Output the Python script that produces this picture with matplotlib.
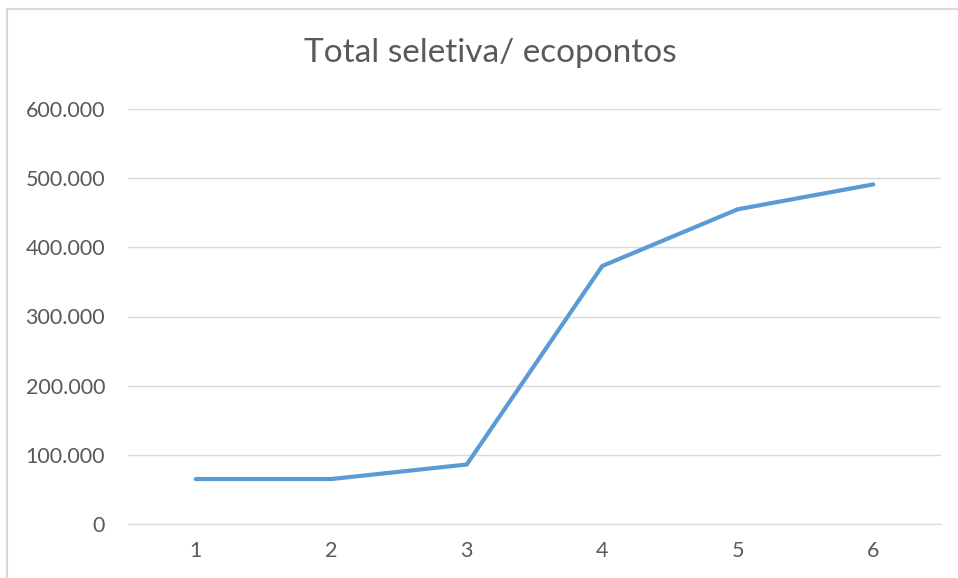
import matplotlib
matplotlib.use("Agg")
import matplotlib.pyplot as plt
from matplotlib.patches import Rectangle
from matplotlib.ticker import FuncFormatter

categories = [1, 2, 3, 4, 5, 6]
values = [65000, 65000, 86000, 373000, 455000, 491000]
y_ticks = [0, 100000, 200000, 300000, 400000, 500000, 600000]
title = "Total seletiva/ ecopontos"

plt.rcParams['font.family'] = ['Lato', 'DejaVu Sans']
txt_color = "#595959"

fig = plt.figure(figsize=(9.58, 5.78), dpi=100)
ax = fig.add_axes([128/958, 1 - 524/578, (941-128)/958, (524-109)/578])

# chart border (only top and left visible in the crop)
fig.patches.append(Rectangle((7/958, -0.1), 1.2, 1 - 9/578 + 0.1, transform=fig.transFigure,
                             fill=False, edgecolor="#D9D9D9", linewidth=1.5))

ax.plot(categories, values, color="#5B9BD5", linewidth=3.0, solid_capstyle="round",
        solid_joinstyle="round", zorder=3)

ax.set_xlim(0.5, 6.5)
ax.set_ylim(0, 600000)
ax.set_yticks(y_ticks)
ax.set_xticks(categories)
ax.yaxis.set_major_formatter(FuncFormatter(lambda v, p: f"{int(v):,}".replace(",", ".")))
ax.grid(axis="y", color="#D9D9D9", linewidth=1)
ax.set_axisbelow(True)
for s in ax.spines.values():
    s.set_visible(False)
ax.spines["bottom"].set_visible(True)
ax.spines["bottom"].set_color("#D9D9D9")
ax.tick_params(length=0, labelsize=15.5, labelcolor=txt_color)
ax.tick_params(axis="y", pad=16.5)
ax.tick_params(axis="x", pad=12)

fig.text(490/958, 1 - 53/578, title, ha="center", va="center", fontsize=24, color=txt_color)

fig.savefig("out.png", dpi=100)
